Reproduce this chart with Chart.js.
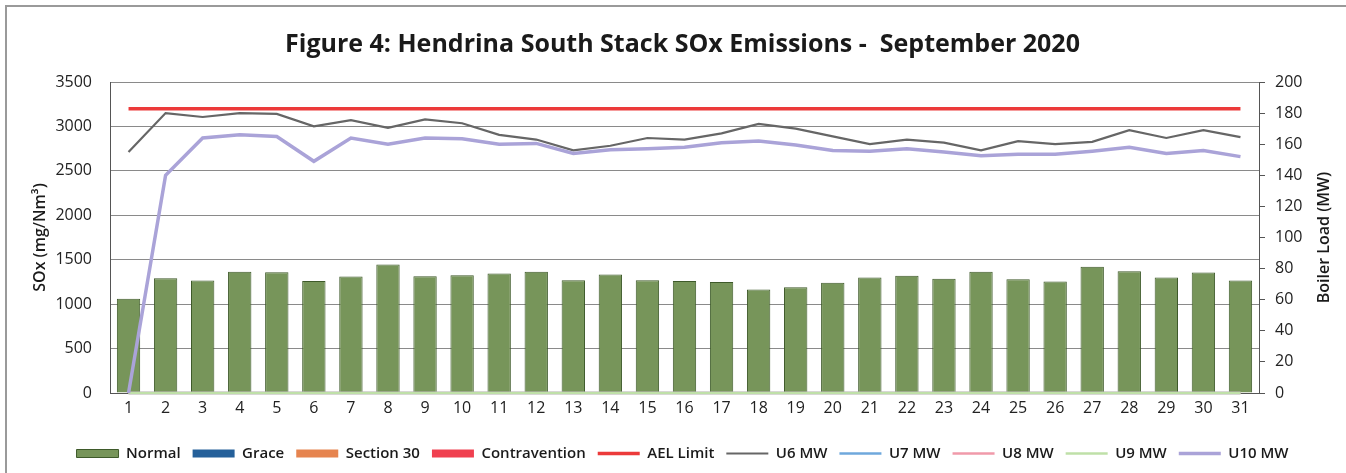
<!DOCTYPE html>
<html>
<head>
<meta charset="utf-8">
<script src="https://cdn.jsdelivr.net/npm/chart.js@4"></script>
<style>
  body { margin: 0; background: #fff; }
  #frame { position: absolute; left: 5px; top: 5px; width: 1341px; height: 468px; border-left: 2px solid #9a9a9a; border-top: 2px solid #9a9a9a; box-sizing: border-box; }
  #wrap { position: absolute; left: -7px; top: -7px; width: 1346px; height: 473px; }
</style>
</head>
<body>
<div id="frame"><div id="wrap"><canvas id="chart"></canvas></div></div>
<script>
'use strict';

// days of the month
var days = [];
for (var d = 1; d <= 31; d++) { days.push(String(d)); }

// SOx emissions, mg/Nm3 (left axis)
var normal = [1060, 1290, 1265, 1365, 1360, 1260, 1310, 1445, 1315, 1325,
  1345, 1365, 1270, 1335, 1270, 1260, 1250, 1165, 1190, 1240,
  1300, 1320, 1285, 1365, 1280, 1255, 1420, 1370, 1300, 1355, 1265];
var grace = new Array(31).fill(0);
var section30 = new Array(31).fill(0);
var contravention = new Array(31).fill(0);
var aelLimit = new Array(31).fill(3200);

// boiler load, MW (right axis)
var u6 = [155, 180, 177.5, 180, 179.5, 171.5, 175.5, 170.5, 176, 173.5,
  166, 163, 156, 159, 164, 163, 167, 173, 170, 165,
  160, 163, 161, 156, 162, 160, 161.5, 169, 164, 169, 164.5];
var u7 = new Array(31).fill(0);
var u8 = new Array(31).fill(0);
var u9 = new Array(31).fill(0);
var u10 = [0, 140, 164, 166, 165, 149, 164, 160, 164, 163.5,
  160, 160.5, 154, 156.5, 157, 158, 161, 162, 159.5, 156,
  155.5, 157, 155, 152.5, 153.5, 153.5, 155.5, 158, 154, 156, 152];

var leftTicks = [0, 500, 1000, 1500, 2000, 2500, 3000, 3500];
var rightTicks = [0, 20, 40, 60, 80, 100, 120, 140, 160, 180, 200];

var fontFam = "'Open Sans', 'Liberation Sans', sans-serif";
var rightTitle = 'Boiler Load (MW)';

function barSet(label, data, fill, border) {
  return {
    type: 'bar', label: label, data: data, yAxisID: 'y',
    backgroundColor: fill, borderColor: border, borderWidth: border ? 1 : 0,
    grouped: false, barPercentage: 0.63, categoryPercentage: 1,
    pointStyle: 'rect', order: 10
  };
}

function lineSet(label, data, color, width, axis, order) {
  return {
    type: 'line', label: label, data: data, yAxisID: axis,
    borderColor: color, backgroundColor: color, borderWidth: width,
    pointRadius: 0, pointStyle: 'line', tension: 0, order: order, clip: 4
  };
}

// right axis title reads bottom-to-top like the original, so draw it by hand
var rightTitlePlugin = {
  id: 'rightTitle',
  afterDraw: function (chart) {
    var s = chart.scales.y1;
    var c = chart.ctx;
    c.save();
    c.translate(s.right - 10, (s.top + s.bottom) / 2);
    c.rotate(-Math.PI / 2);
    c.textAlign = 'center';
    c.textBaseline = 'middle';
    c.fillStyle = '#1a1a1a';
    c.font = '600 16px ' + fontFam;
    c.fillText(rightTitle, 0, 0);
    c.restore();
  }
};

var ctx = document.getElementById('chart').getContext('2d');
var chart = new Chart(ctx, {
  data: {
    labels: days,
    datasets: [
      barSet('Normal', normal, '#77955a', '#3e5a2a'),
      barSet('Grace', grace, '#25609a', null),
      barSet('Section 30', section30, '#e6844f', null),
      barSet('Contravention', contravention, '#f04050', null),
      lineSet('AEL Limit', aelLimit, '#ec3a3a', 3.5, 'y', 1),
      lineSet('U6 MW', u6, '#666666', 2.2, 'y1', 3),
      lineSet('U7 MW', u7, '#6fa8dc', 2.5, 'y1', 6),
      lineSet('U8 MW', u8, '#f09aaa', 2.5, 'y1', 5),
      lineSet('U9 MW', u9, '#bfe0a8', 2.5, 'y1', 4),
      lineSet('U10 MW', u10, '#aaa3d8', 3.5, 'y1', 2)
    ]
  },
  plugins: [rightTitlePlugin],
  options: {
    responsive: true,
    maintainAspectRatio: false,
    animation: false,
    layout: { padding: { left: 31, right: 12, top: 30, bottom: 2 } },
    plugins: {
      title: {
        display: true,
        text: 'Figure 4: Hendrina South Stack SOx Emissions -  September 2020',
        color: '#1a1a1a',
        font: { family: fontFam, size: 25, weight: 'bold' },
        padding: { top: 0, bottom: 22 }
      },
      legend: {
        position: 'bottom',
        labels: {
          usePointStyle: true,
          pointStyleWidth: 42,
          boxHeight: 8,
          color: '#1a1a1a',
          padding: 12,
          font: { family: fontFam, size: 15, weight: '600' },
          sort: function (a, b) { return a.datasetIndex - b.datasetIndex; }
        }
      },
      tooltip: { enabled: false }
    },
    scales: {
      x: {
        offset: true,
        afterFit: function (axis) { axis.height = 41; },
        grid: { display: false, drawTicks: false },
        border: { display: true, color: '#555' },
        ticks: { color: '#222', font: { family: fontFam, size: 16 }, padding: 6, maxRotation: 0, autoSkip: false }
      },
      y: {
        position: 'left',
        min: 0, max: 3500,
        afterBuildTicks: function (axis) { axis.ticks = leftTicks.map(function (v) { return { value: v }; }); },
        afterFit: function (axis) { axis.width = 79; },
        grid: { color: '#8a8a8a', lineWidth: 1, drawTicks: false },
        border: { display: true, color: '#555' },
        ticks: { color: '#222', font: { family: fontFam, size: 16 }, padding: 18, callback: function (v) { return String(v); } },
        title: { display: true, text: 'SOx (mg/Nm³)', color: '#1a1a1a', font: { family: fontFam, size: 16, weight: '600' }, padding: { top: 0, bottom: 5 } }
      },
      y1: {
        position: 'right',
        min: 0, max: 200,
        afterBuildTicks: function (axis) { axis.ticks = rightTicks.map(function (v) { return { value: v }; }); },
        afterFit: function (axis) { axis.width = 75; },
        grid: { drawOnChartArea: false, color: '#555', tickLength: 6 },
        border: { display: true, color: '#555' },
        ticks: { color: '#222', font: { family: fontFam, size: 16 }, padding: 10 },
        // the title text itself is drawn by rightTitlePlugin
        title: { display: false }
      }
    }
  }
});
</script>
</body>
</html>
